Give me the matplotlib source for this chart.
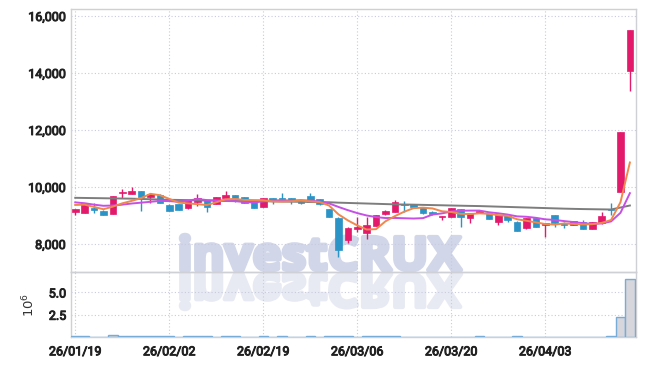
import matplotlib
matplotlib.use('Agg')
import matplotlib.pyplot as plt
import matplotlib.patheffects as pe
from matplotlib import font_manager
from matplotlib.textpath import TextPath
from matplotlib.patches import PathPatch
from matplotlib.font_manager import FontProperties
from matplotlib.transforms import Affine2D

plt.rcParams['mathtext.fontset'] = 'custom'
plt.rcParams['mathtext.rm'] = 'Roboto'

# ── data (KRW, daily) ──
opens = [9130, 9100, 9250, 9170, 9060, 9790, 9770, 9860, 9660, 9730,
         9380, 9400, 9250, 9480, 9540, 9420, 9610, 9720, 9640, 9460,
         9310, 9620, 9600, 9600, 9540, 9680, 9570, 9230, 8920, 8140,
         8540, 8370, 8640, 9040, 9130, 9400, 9400, 9290, 9130, 8940,
         8960, 9220, 8900, 9100, 9100, 8780, 9020, 8780, 8550, 8920,
         8670, 9020, 8750, 8670, 8780, 8530, 8720, 9230, 9830, 14080]
highs = [9240, 9450, 9430, 9180, 9700, 9940, 9990, 9870, 9800, 9740,
         9390, 9410, 9550, 9740, 9550, 9650, 9850, 9730, 9650, 9470,
         9630, 9630, 9780, 9610, 9550, 9800, 9580, 9240, 8930, 8580,
         8960, 8960, 9030, 9180, 9540, 9520, 9410, 9300, 9140, 8990,
         9260, 9230, 9080, 9180, 9110, 9030, 9030, 8790, 8910, 8930,
         8730, 9030, 8760, 8820, 8830, 8770, 9130, 9450, 11940, 15510]
lows = [9020, 9090, 9090, 9000, 9040, 9620, 9760, 9160, 9430, 9440,
        9160, 9190, 9240, 9350, 9110, 9410, 9600, 9480, 9440, 9270,
        9300, 9420, 9570, 9410, 9410, 9470, 9380, 8950, 7530, 8020,
        8430, 8160, 8630, 9030, 9120, 9130, 9280, 9060, 9030, 8840,
        8950, 8610, 8720, 9090, 8880, 8670, 8770, 8460, 8540, 8600,
        8260, 8600, 8570, 8660, 8520, 8520, 8710, 9010, 9820, 13370]
closes = [9230, 9440, 9180, 9010, 9690, 9810, 9870, 9660, 9770, 9450,
          9170, 9200, 9540, 9620, 9310, 9640, 9720, 9610, 9450, 9280,
          9620, 9510, 9580, 9510, 9450, 9480, 9390, 8960, 7790, 8570,
          8600, 8670, 9020, 9170, 9480, 9380, 9290, 9100, 9040, 8980,
          9250, 8960, 9070, 9170, 8890, 9020, 8840, 8470, 8900, 8610,
          8720, 8750, 8670, 8810, 8530, 8760, 8980, 9180, 11930, 15500]

ma5 = [9370, 9380, 9300, 9220, 9310, 9426, 9512, 9608, 9760, 9712,
       9584, 9450, 9426, 9396, 9368, 9462, 9566, 9580, 9546, 9540,
       9536, 9494, 9488, 9500, 9524, 9496, 9472, 9348, 9040, 8828,
       8652, 8508, 8520, 8796, 8978, 9134, 9258, 9274, 9248, 9148,
       9122, 9056, 9050, 9076, 9058, 9012, 8988, 8868, 8814, 8758,
       8698, 8680, 8720, 8702, 8686, 8694, 8740, 8842, 9466, 10860]
ma10 = [9460, 9430, 9380, 9340, 9350, 9380, 9420, 9450, 9480, 9511,
        9505, 9481, 9517, 9578, 9540, 9523, 9508, 9503, 9471, 9454,
        9499, 9530, 9534, 9523, 9537, 9521, 9488, 9423, 9300, 9186,
        9084, 9000, 8944, 8910, 8913, 8903, 8893, 8907, 9032, 9073,
        9138, 9167, 9172, 9172, 9113, 9077, 9032, 8969, 8955, 8918,
        8865, 8844, 8804, 8768, 8732, 8706, 8720, 8791, 9094, 9783]
ma60 = [9620, 9615, 9610, 9605, 9600, 9595, 9590, 9580, 9570, 9560,
        9550, 9545, 9540, 9530, 9525, 9520, 9515, 9510, 9505, 9500,
        9500, 9495, 9490, 9485, 9480, 9475, 9470, 9465, 9450, 9440,
        9430, 9420, 9410, 9400, 9390, 9385, 9380, 9372, 9365, 9358,
        9350, 9343, 9336, 9330, 9320, 9310, 9300, 9290, 9280, 9270,
        9260, 9250, 9240, 9232, 9225, 9220, 9215, 9210, 9280, 9350]

# volume in millions of shares
volume = [0.08, 0.08, 0.03, 0.03, 0.20, 0.08, 0.08, 0.08, 0.08, 0.08,
          0.08, 0.03, 0.08, 0.08, 0.08, 0.03, 0.08, 0.08, 0.03, 0.03,
          0.08, 0.03, 0.08, 0.03, 0.03, 0.08, 0.03, 0.08, 0.08, 0.08,
          0.03, 0.08, 0.08, 0.08, 0.08, 0.03, 0.03, 0.03, 0.03, 0.03,
          0.03, 0.03, 0.03, 0.08, 0.03, 0.03, 0.03, 0.08, 0.03, 0.03,
          0.03, 0.03, 0.03, 0.03, 0.03, 0.03, 0.03, 0.08, 2.27, 6.56]

tick_idx = [0, 10, 20, 30, 40, 50]
tick_labels = ['26/01/19', '26/02/02', '26/02/19', '26/03/06', '26/03/20', '26/04/03']

UP = '#e31a6b'
DOWN = '#2b93c6'
GRID = '#c8cade'
SPINE = '#cfcfd6'
TXT = '#222222'

W, H = 645, 366
fig = plt.figure(figsize=(W / 100, H / 100), dpi=100)
fig.patch.set_facecolor('white')
ax = fig.add_axes([71 / W, 1 - 272 / H, 565 / W, 263 / H])
axv = fig.add_axes([71 / W, 1 - 337 / H, 565 / W, 65 / H], sharex=ax)

# watermark + reflection, behind the axes content
wm_file = font_manager.findfont(FontProperties(family='Open Sans', weight='bold'))
tp = TextPath((0, 0), 'investCRUX', size=1, prop=FontProperties(fname=wm_file))
bb = tp.get_extents()
sx = (280 / W) / bb.width
sy = (35 / H) / bb.y1
x0 = 181 / W - bb.x0 * sx
base = 1 - 270 / H
wm = PathPatch(tp, transform=Affine2D().scale(sx, sy).translate(x0, base) + fig.transFigure,
               facecolor='#d1d6e9', edgecolor='#d1d6e9', linewidth=3.2,
               joinstyle='round', zorder=-5)
wr = PathPatch(tp, transform=Affine2D().scale(sx, -sy).translate(x0, base - 4 / H) + fig.transFigure,
               facecolor='#e8eaf3', edgecolor='#e8eaf3', linewidth=3.2,
               joinstyle='round', zorder=-6)
fig.add_artist(wm)
fig.add_artist(wr)

for a in (ax, axv):
    a.set_facecolor('none')
    a.set_zorder(1)
    for sp in a.spines.values():
        sp.set_color(SPINE)
        sp.set_linewidth(1)
    a.grid(True, color=GRID, linestyle=(0, (1, 2)), linewidth=0.8)
    a.set_axisbelow(True)
    a.tick_params(length=0, labelcolor=TXT)

# candles
x = list(range(len(closes)))
for i in x:
    o, h, l, c = opens[i], highs[i], lows[i], closes[i]
    col = UP if c >= o else DOWN
    ax.vlines(i, l, h, color=col, linewidth=1, zorder=3)
    body = max(abs(c - o), 25)
    ax.bar(i, body, bottom=min(o, c), width=0.7, color=col, edgecolor=col,
           linewidth=0.5, zorder=4)

ax.plot(x, ma60, color='#7d7d7d', linewidth=1.4, zorder=5)
ax.plot(x, ma10, color='#c64fe6', linewidth=1.4, zorder=5)
ax.plot(x, ma5, color='#f0874c', linewidth=1.4, zorder=6)

ax.set_ylim(7017, 16245)
ax.set_yticks([8000, 10000, 12000, 14000, 16000])
ax.set_yticklabels(['8,000', '10,000', '12,000', '14,000', '16,000'])
ax.set_xlim(-0.45, 59.65)
ax.tick_params(axis='x', labelbottom=False)

axv.bar(x, volume, width=1.0, color='#d6d6dc', edgecolor='#78acd6', linewidth=1, zorder=3)
axv.set_ylim(0, 7.3)
axv.set_yticks([2.5, 5.0])
axv.set_yticklabels(['2.5', '5.0'])
axv.set_xticks(tick_idx)
axv.set_xticklabels(tick_labels)
axv.tick_params(axis='x', pad=6)
axv.set_ylabel(r'$\mathregular{10^6}$', fontsize=9.5, color='#333333', labelpad=8)

# heavier look for the narrow tick font
bold_fx = [pe.withStroke(linewidth=0.7, foreground=TXT)]
for lab in ax.get_yticklabels() + axv.get_yticklabels() + axv.get_xticklabels():
    lab.set_family('Roboto')
    lab.set_fontsize(9)
    lab.set_path_effects(bold_fx)

fig.savefig('out.png', dpi=100)
